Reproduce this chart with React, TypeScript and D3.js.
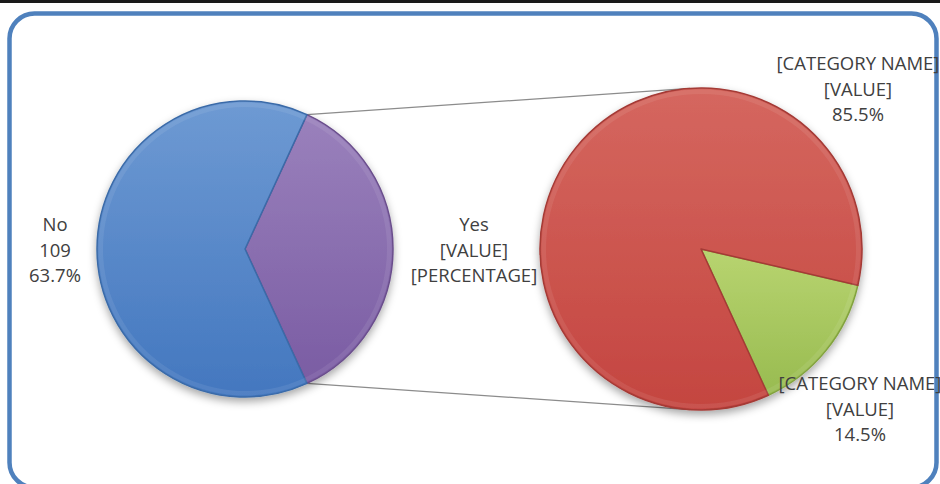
import * as d3 from 'd3';
import React, { useRef, useEffect } from 'react';

// main pie
const mainCategories = ['No', 'Yes'];
const mainValues = [109, 62];
// secondary pie (split of "Yes")
const subCategories = ['[CATEGORY NAME]', '[CATEGORY NAME]'];
const subValues = [53, 9];

const mainColours = [['#6E9AD3', '#4377BF'], ['#9A81BC', '#7A5CA3']];
const subColours = [['#D5675F', '#C44540'], ['#B8D470', '#98BB50']];

const W = 940;
const H = 484;
const textColour = '#404040';
const font = '"Open Sans", sans-serif';

export default function App() {
    const ref = useRef<HTMLDivElement>(null);

    useEffect(() => {
        d3.select(ref.current).selectAll('svg').remove();

        const svg = d3.select(ref.current)
            .append('svg')
            .attr('width', W)
            .attr('height', H)
            .style('position', 'absolute')
            .style('left', '0px')
            .style('top', '0px')
            .style('background', '#fff');

        const defs = svg.append('defs');
        const shadow = defs.append('filter').attr('id', 'shadow')
            .attr('x', '-20%').attr('y', '-20%').attr('width', '140%').attr('height', '140%');
        shadow.append('feDropShadow')
            .attr('dx', 0).attr('dy', 4).attr('stdDeviation', 4)
            .attr('flood-color', '#000').attr('flood-opacity', 0.35);

        const addGrad = (id: string, c: string[]) => {
            const g = defs.append('linearGradient').attr('id', id)
                .attr('x1', 0).attr('y1', 0).attr('x2', 0).attr('y2', 1);
            g.append('stop').attr('offset', '0%').attr('stop-color', c[0]);
            g.append('stop').attr('offset', '100%').attr('stop-color', c[1]);
        };
        mainColours.forEach((c, i) => addGrad('gm' + i, c));
        subColours.forEach((c, i) => addGrad('gs' + i, c));

        // top dark strip and rounded frame
        svg.append('rect').attr('x', 0).attr('y', 0).attr('width', W).attr('height', 3).attr('fill', '#1a1a1a');
        svg.append('rect')
            .attr('x', 9.5).attr('y', 13.5)
            .attr('width', 927).attr('height', 474)
            .attr('rx', 25).attr('ry', 25)
            .attr('fill', 'none')
            .attr('stroke', '#4F81BD')
            .attr('stroke-width', 4.5);

        // main pie geometry
        const mc = { x: 245, y: 249, r: 148 };
        const mainTotal = d3.sum(mainValues);
        const yesAngle = (mainValues[1] / mainTotal) * 2 * Math.PI;
        const mainData = [
            { name: mainCategories[1], value: mainValues[1], idx: 1 },
            { name: mainCategories[0], value: mainValues[0], idx: 0 },
        ];
        const mainStart = Math.PI / 2 - yesAngle / 2;
        const mainArcs = d3.pie<any>().sort(null).value(d => d.value)
            .startAngle(mainStart).endAngle(mainStart + 2 * Math.PI)(mainData);

        // secondary pie geometry
        const sc = { x: 701, y: 249, r: 161 };
        const subTotal = d3.sum(subValues);
        const greenAngle = (subValues[1] / subTotal) * 2 * Math.PI;
        const yesEnd = mainStart + yesAngle;
        const subStart = yesEnd - greenAngle;
        const subData = [
            { name: subCategories[1], value: subValues[1], idx: 1 },
            { name: subCategories[0], value: subValues[0], idx: 0 },
        ];
        const subArcs = d3.pie<any>().sort(null).value(d => d.value)
            .startAngle(subStart).endAngle(subStart + 2 * Math.PI)(subData);

        // connector lines: from the Yes slice edge to the tangent on the second pie
        const pt = (c: any, a: number) => [c.x + c.r * Math.sin(a), c.y - c.r * Math.cos(a)];
        const tangent = (p: number[], upper: boolean) => {
            const dx = p[0] - sc.x, dy = p[1] - sc.y;
            const d = Math.sqrt(dx * dx + dy * dy);
            const base = Math.atan2(dx, -dy);
            const off = Math.acos(sc.r / d);
            return pt(sc, upper ? base + off : base - off);
        };
        const p1 = pt(mc, mainStart);
        const p2 = pt(mc, yesEnd);
        const lines = [[p1, tangent(p1, true)], [p2, tangent(p2, false)]];
        svg.selectAll('.conn').data(lines).enter().append('line')
            .attr('x1', d => d[0][0]).attr('y1', d => d[0][1])
            .attr('x2', d => d[1][0]).attr('y2', d => d[1][1])
            .attr('stroke', '#8c8c8c').attr('stroke-width', 1.2);

        const drawPie = (c: any, arcs: any[], prefix: string, strokes: string[]) => {
            const g = svg.append('g')
                .attr('transform', `translate(${c.x},${c.y})`)
                .attr('filter', 'url(#shadow)');
            const arc = d3.arc<any>().innerRadius(0).outerRadius(c.r);
            g.selectAll('path').data(arcs).enter().append('path')
                .attr('d', arc)
                .attr('fill', d => `url(#${prefix}${d.data.idx})`)
                .attr('stroke', d => strokes[d.data.idx])
                .attr('stroke-width', 1.5)
                .attr('stroke-linejoin', 'round');
            // soft bevel highlight on the rim
            g.selectAll('.rim').data(arcs).enter().append('path')
                .attr('d', d3.arc<any>().innerRadius(c.r - 6).outerRadius(c.r - 1.5))
                .attr('fill', '#fff')
                .attr('opacity', 0.08);
        };
        drawPie(mc, mainArcs, 'gm', ['#3B6BA8', '#6A4E8C']);
        drawPie(sc, subArcs, 'gs', ['#A43A36', '#82A23F']);

        // labels
        const label = (x: number, y: number, texts: string[]) => {
            const t = svg.append('text')
                .attr('text-anchor', 'middle')
                .attr('fill', textColour)
                .style('font-family', font)
                .style('font-size', '18.5px');
            texts.forEach((s, i) => {
                t.append('tspan').attr('x', x).attr('y', y + i * 25.5).text(s);
            });
        };
        const pctFmt = d3.format('.1%');
        label(55, 231, [mainCategories[0], String(mainValues[0]), pctFmt(mainValues[0] / mainTotal)]);
        label(474, 231, [mainCategories[1], '[VALUE]', '[PERCENTAGE]']);
        label(858, 70, [subCategories[0], '[VALUE]', pctFmt(subValues[0] / subTotal)]);
        label(860, 390, [subCategories[1], '[VALUE]', pctFmt(subValues[1] / subTotal)]);
    }, []);

    return <div ref={ref}></div>;
}
